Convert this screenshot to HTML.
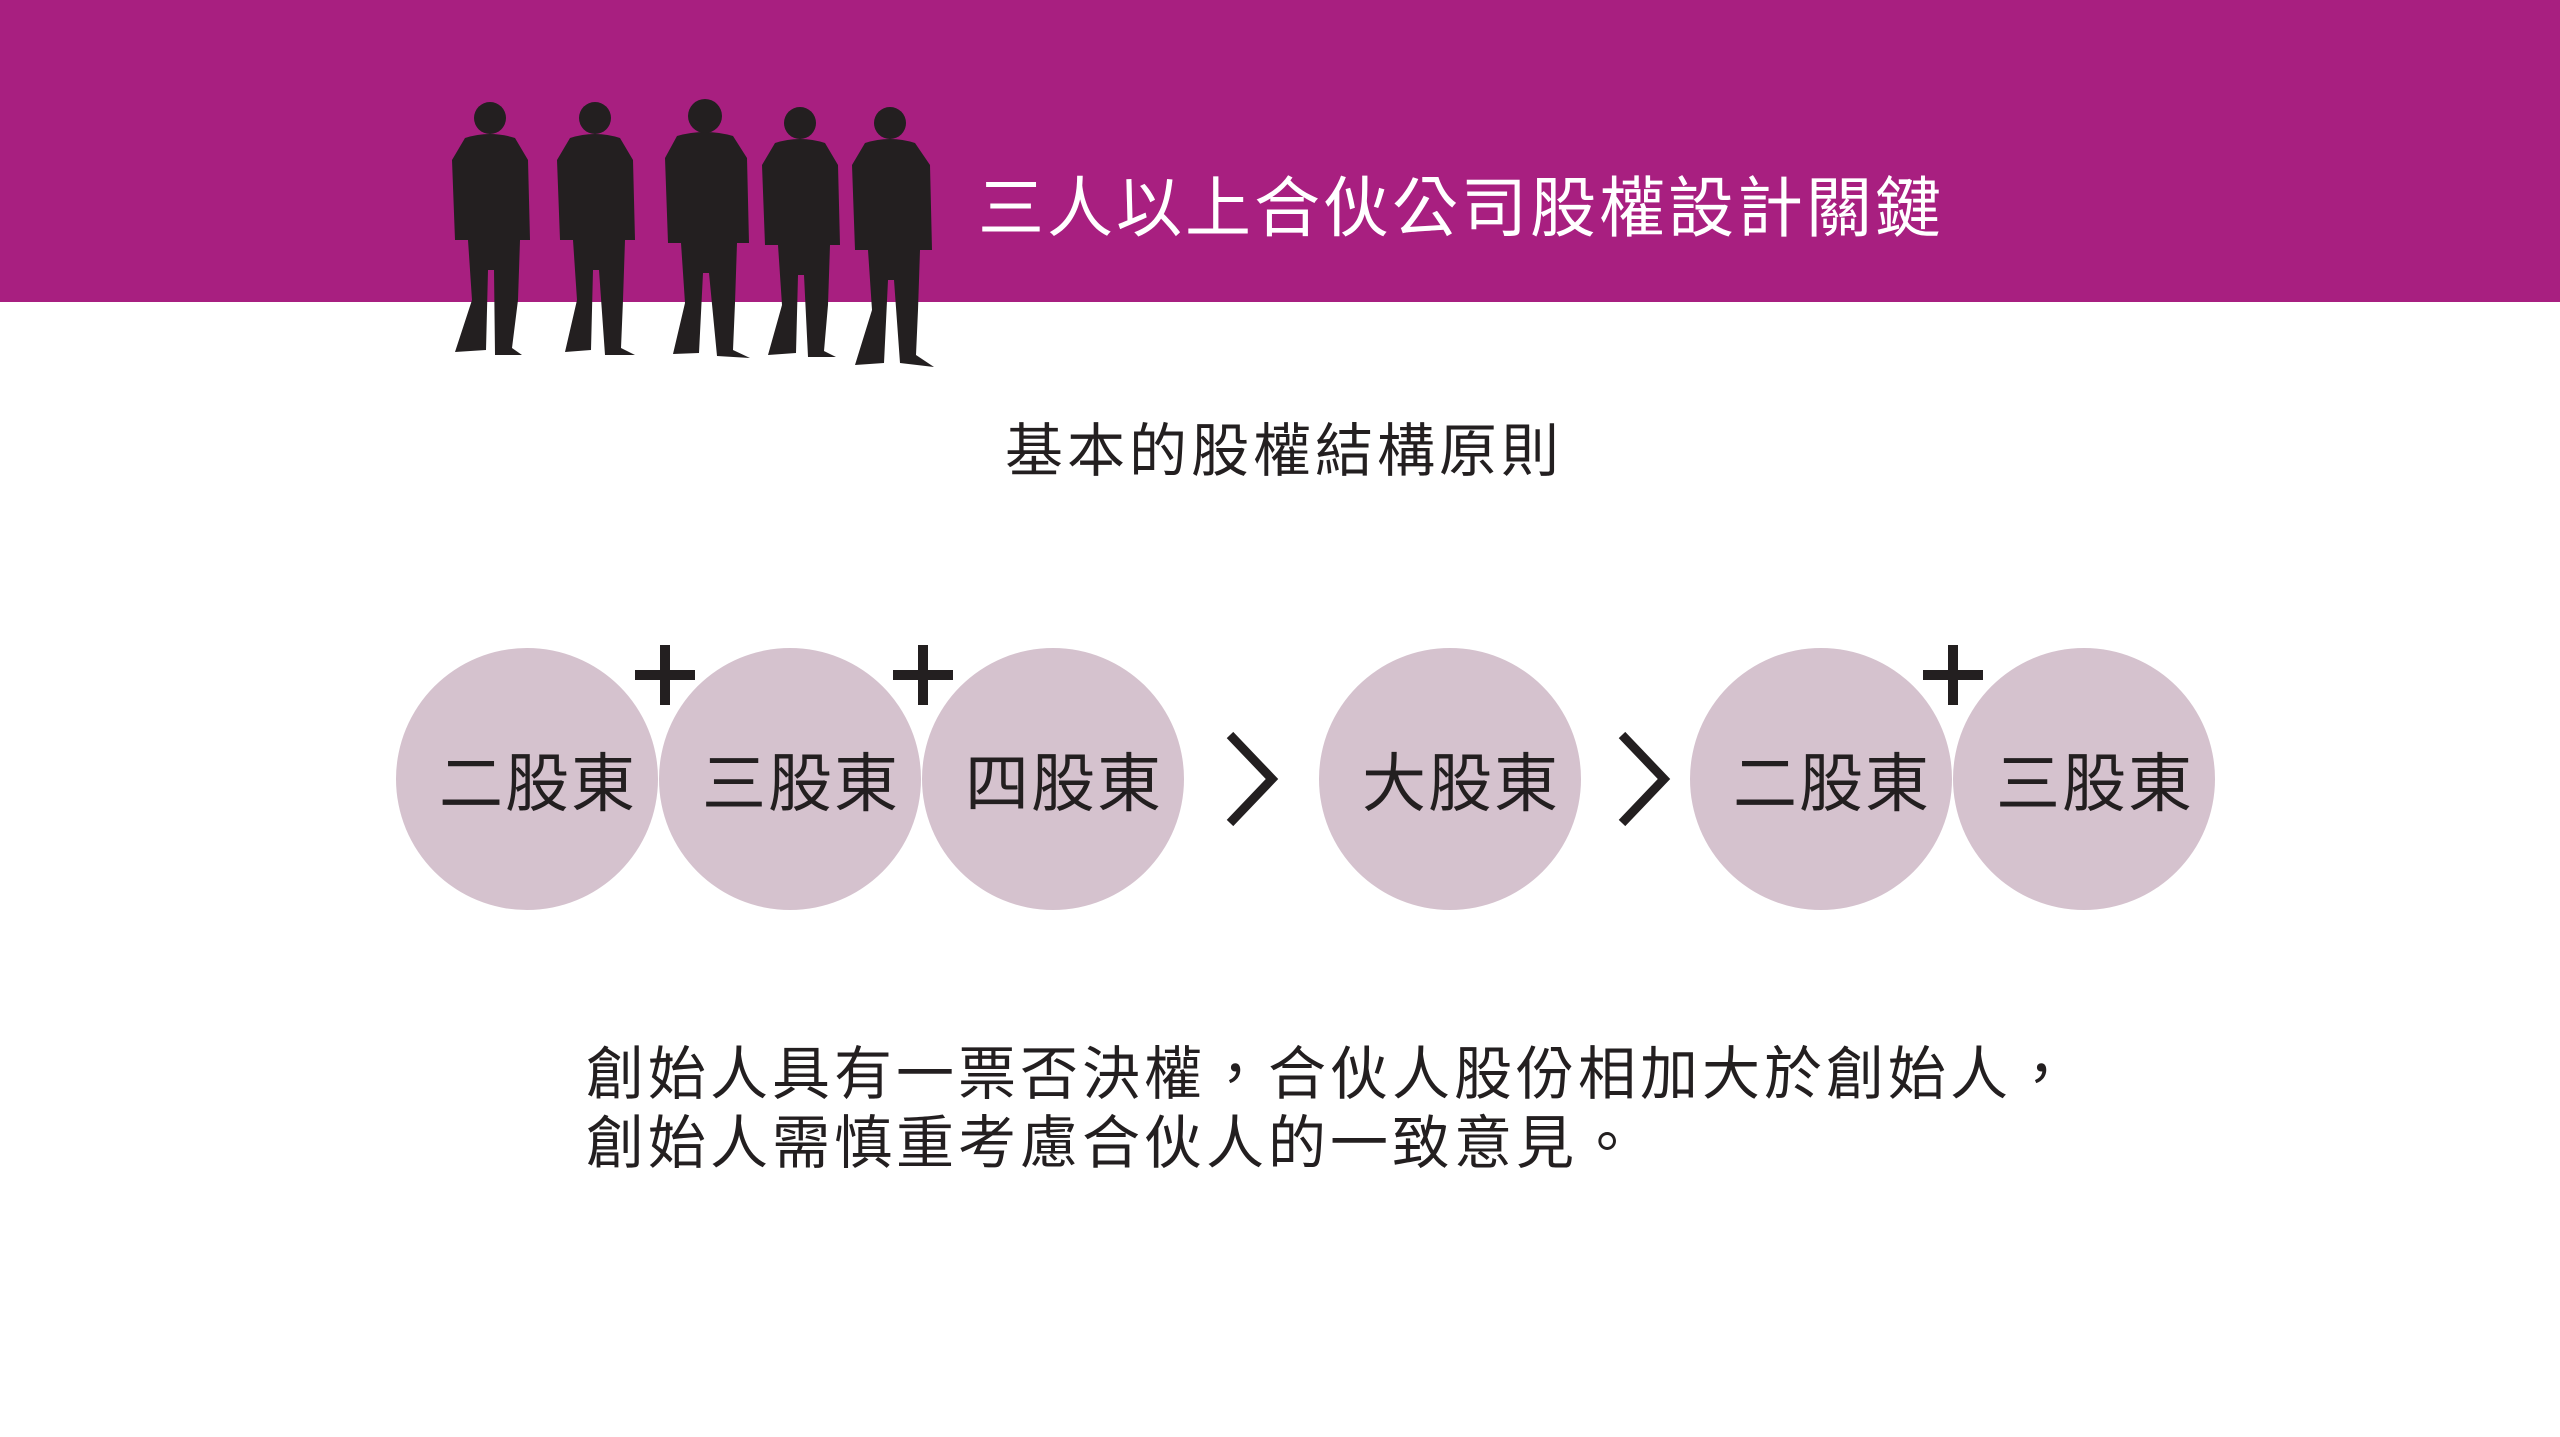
<!DOCTYPE html>
<html><head><meta charset="utf-8"><style>
html,body{margin:0;padding:0;}
body{width:2560px;height:1437px;position:relative;background:#fff;overflow:hidden;font-family:"Liberation Sans","Noto Sans CJK TC",sans-serif;color:#231f20;}
.band{position:absolute;left:0;top:0;width:2560px;height:302px;background:#a81f80;}
.title{position:absolute;left:978px;top:168px;font-size:66px;color:#fff;white-space:nowrap;letter-spacing:3px;line-height:80px;}
.sub{position:absolute;left:1005px;top:414px;font-size:58px;white-space:nowrap;line-height:76px;letter-spacing:4px;}
.c{position:absolute;width:262px;height:262px;border-radius:50%;background:#d5c2ce;top:648px;display:flex;align-items:center;justify-content:center;font-size:64px;letter-spacing:2px;box-sizing:border-box;padding-left:22px;}
.txt{position:absolute;left:586px;top:1040px;font-size:58px;line-height:69px;white-space:nowrap;letter-spacing:4px;}
</style></head><body>
<div class="band"></div>
<svg style="position:absolute;left:440px;top:95px" width="510" height="275" viewBox="0 0 510 275">
<g fill="#231f20">
<g transform="translate(10,5)"><circle cx="40" cy="18" r="16"/><path d="M15 38 Q40 30 65 38 L78 60 L80 140 L70 140 L68 200 L62 248 L72 255 L45 255 L44 170 L38 170 L36 250 L5 252 L22 200 L18 140 L5 140 L2 60 Z"/></g>
<g transform="translate(115,5)"><circle cx="40" cy="18" r="16"/><path d="M15 38 Q40 30 65 38 L78 60 L80 140 L70 140 L68 200 L66 248 L80 255 L50 255 L44 170 L38 170 L36 250 L10 252 L22 200 L18 140 L5 140 L2 60 Z"/></g>
<g transform="translate(225,3)"><circle cx="40" cy="18" r="17"/><path d="M12 38 Q40 30 68 38 L82 60 L84 145 L72 145 L70 205 L68 252 L85 260 L52 258 L44 175 L38 175 L34 255 L8 256 L20 205 L16 145 L3 145 L0 60 Z"/></g>
<g transform="translate(320,10)"><circle cx="40" cy="18" r="16"/><path d="M15 38 Q40 30 65 38 L78 60 L80 140 L70 140 L68 200 L64 246 L76 252 L48 252 L44 170 L38 170 L36 248 L8 250 L22 200 L18 140 L5 140 L2 60 Z"/></g>
<g transform="translate(410,10)"><circle cx="40" cy="18" r="16"/><path d="M15 38 Q40 30 65 38 L80 60 L82 145 L70 145 L68 205 L66 250 L84 262 L50 258 L44 175 L38 175 L34 258 L5 260 L22 205 L18 145 L5 145 L2 60 Z"/></g>
</g></svg>
<div class="title">三人以上合伙公司股權設計關鍵</div>
<div class="sub">基本的股權結構原則</div>
<div class="c" style="left:396px">二股東</div>
<div class="c" style="left:659px">三股東</div>
<div class="c" style="left:922px">四股東</div>
<div class="c" style="left:1319px">大股東</div>
<div class="c" style="left:1690px">二股東</div>
<div class="c" style="left:1953px">三股東</div>
<svg style="position:absolute;left:0;top:0" width="2560" height="1437">
<g stroke="#231f20" stroke-width="9" fill="none">
<path d="M1230 735 L1272 779 L1230 823"/>
<path d="M1622 735 L1664 779 L1622 823"/>
</g>
<g stroke="#231f20" stroke-width="10">
<path d="M665 645 V705 M635 675 H695"/>
<path d="M923 645 V705 M893 675 H953"/>
<path d="M1953 645 V705 M1923 675 H1983"/>
</g></svg>
<div class="txt">創始人具有一票否決權，合伙人股份相加大於創始人，<br>創始人需慎重考慮合伙人的一致意見。</div>
</body></html>
